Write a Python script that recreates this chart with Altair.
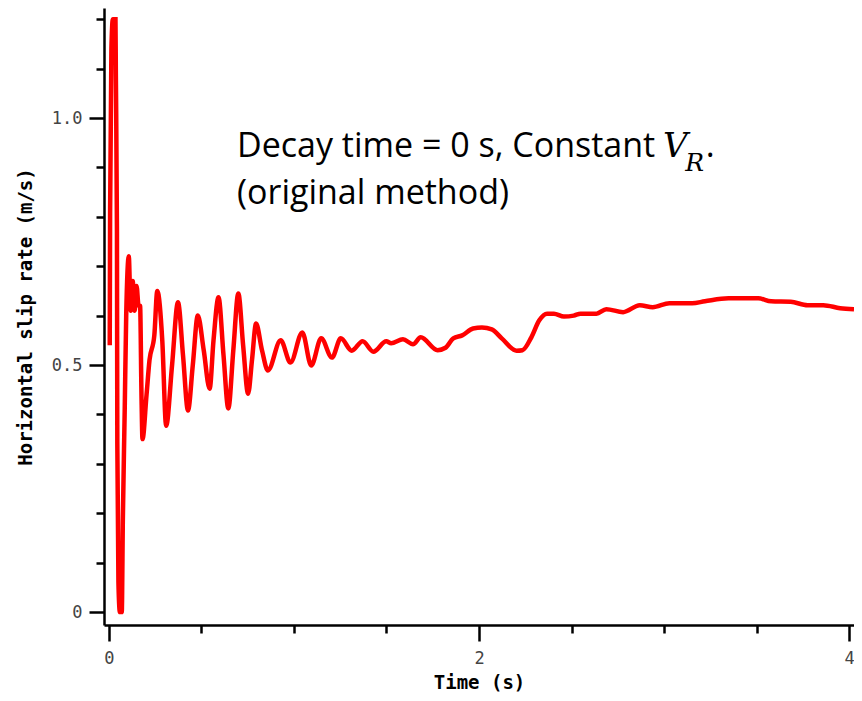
import altair as alt
import pandas as pd

# ---- data ----
time_s = [0.004, 0.006, 0.013, 0.021, 0.035, 0.037, 0.043, 0.045, 0.051, 0.059,
          0.069, 0.075, 0.085, 0.093, 0.107, 0.117, 0.128, 0.139, 0.149, 0.160,
          0.168, 0.176, 0.181, 0.203, 0.219, 0.245, 0.261, 0.288, 0.309, 0.341,
          0.373, 0.400, 0.427, 0.453, 0.480, 0.512, 0.544, 0.565, 0.592, 0.619,
          0.645, 0.672, 0.699, 0.725, 0.752, 0.773, 0.795, 0.827, 0.859, 0.928,
          0.981, 1.045, 1.093, 1.147, 1.205, 1.253, 1.312, 1.371, 1.429, 1.499,
          1.525, 1.589, 1.643, 1.685, 1.776, 1.819, 1.861, 1.909, 1.968, 2.016,
          2.069, 2.123, 2.203, 2.235, 2.283, 2.325, 2.368, 2.405, 2.459, 2.512,
          2.549, 2.635, 2.688, 2.779, 2.869, 2.939, 3.029, 3.152, 3.221, 3.349,
          3.509, 3.579, 3.685, 3.776, 3.861, 3.952, 4.027]
slip_rate = [0.54, 0.81, 1.14, 1.20, 1.20, 1.09, 0.77, 0.34, 0.06, 0.00,
             0.00, 0.19, 0.41, 0.60, 0.72, 0.61, 0.67, 0.61, 0.66, 0.62,
             0.62, 0.43, 0.35, 0.44, 0.51, 0.56, 0.65, 0.55, 0.377, 0.50,
             0.627, 0.52, 0.408, 0.50, 0.60, 0.53, 0.452, 0.55, 0.637, 0.52,
             0.412, 0.53, 0.645, 0.54, 0.442, 0.51, 0.584, 0.53, 0.489, 0.55,
             0.505, 0.566, 0.499, 0.554, 0.515, 0.554, 0.529, 0.548, 0.527, 0.548,
             0.544, 0.552, 0.542, 0.556, 0.530, 0.535, 0.554, 0.560, 0.574, 0.576,
             0.572, 0.554, 0.529, 0.530, 0.556, 0.590, 0.604, 0.604, 0.598, 0.600,
             0.604, 0.604, 0.613, 0.607, 0.621, 0.617, 0.625, 0.625, 0.629, 0.635,
             0.635, 0.629, 0.628, 0.621, 0.621, 0.615, 0.613]

x_tick_values = [0, 0.5, 1, 1.5, 2, 2.5, 3, 3.5, 4]
y_tick_values = [0, 0.1, 0.2, 0.3, 0.4, 0.5, 0.6, 0.7, 0.8, 0.9, 1.0, 1.1, 1.2]

# annotation text and anchor (in data units)
ann_line1 = "Decay time = 0 s, Constant"
ann_line2 = "(original method)"
ann_t = 0.692
ann_v1 = 0.921
ann_v2 = 0.826
sym_V_t, sym_V_v = 2.995, 0.921
sym_R_t, sym_R_v = 3.115, 0.893
sym_dot_t, sym_dot_v = 3.225, 0.921

XMIN, XMAX = -0.027, 4.027
YMIN, YMAX = -0.0263, 1.2227

df = pd.DataFrame({"t": time_s, "v": slip_rate, "i": list(range(len(time_s)))})

x_scale = alt.Scale(domain=[XMIN, XMAX], nice=False, zero=False)
y_scale = alt.Scale(domain=[YMIN, YMAX], nice=False, zero=False)

MONO = "DejaVu Sans Mono"
y_major = "abs(datum.value*2 - round(datum.value*2)) < 1e-6"
x_major = "abs(datum.value/2 - round(datum.value/2)) < 1e-6"

x_axis = alt.Axis(
    title="Time (s)", values=x_tick_values, grid=False,
    labelExpr=f"{x_major} ? format(datum.value, 'd') : ''",
    tickSize={"condition": {"test": x_major, "value": 16}, "value": 8},
    tickColor="black", tickWidth=2.5, domainColor="black", domainWidth=2.5,
    labelFont=MONO, labelFontSize=17, labelColor="#444", labelPadding=9,
    labelFlush=False, labelOverlap=False,
    titleFont=MONO, titleFontSize=19, titleFontWeight="bold", titleColor="black",
    titlePadding=7,
)
y_axis = alt.Axis(
    title="Horizontal slip rate (m/s)", values=y_tick_values, grid=False,
    labelExpr=f"{y_major} ? (datum.value == 0 ? '0' : format(datum.value, '.1f')) : ''",
    tickSize={"condition": {"test": y_major, "value": 15}, "value": 8},
    tickColor="black", tickWidth=2.5, domainColor="black", domainWidth=2.5,
    labelFont=MONO, labelFontSize=17, labelColor="#444", labelPadding=7,
    labelFlush=False, labelOverlap=False,
    titleFont=MONO, titleFontSize=19, titleFontWeight="bold", titleColor="black",
    titlePadding=16,
)

line = alt.Chart(df).mark_line(
    color="#ff0000", strokeWidth=4.5, clip=True, interpolate="monotone"
).encode(
    x=alt.X("t:Q", scale=x_scale, axis=x_axis),
    y=alt.Y("v:Q", scale=y_scale, axis=y_axis),
    order=alt.Order("i:Q"),
)

ann_df = pd.DataFrame({"t": [ann_t, ann_t], "v": [ann_v1, ann_v2], "txt": [ann_line1, ann_line2]})
ann = alt.Chart(ann_df).mark_text(
    align="left", baseline="alphabetic", font="Open Sans", fontSize=34, color="black"
).encode(x="t:Q", y="v:Q", text="txt:N")

sym_df = pd.DataFrame({"t": [sym_V_t], "v": [sym_V_v], "txt": ["V"]})
symV = alt.Chart(sym_df).mark_text(
    align="left", baseline="alphabetic", font="DejaVu Serif", fontStyle="italic",
    fontSize=34, color="black"
).encode(x="t:Q", y="v:Q", text="txt:N")

symR_df = pd.DataFrame({"t": [sym_R_t], "v": [sym_R_v], "txt": ["R"]})
symR = alt.Chart(symR_df).mark_text(
    align="left", baseline="alphabetic", font="DejaVu Serif", fontStyle="italic",
    fontSize=25, color="black"
).encode(x="t:Q", y="v:Q", text="txt:N")

dot_df = pd.DataFrame({"t": [sym_dot_t], "v": [sym_dot_v], "txt": ["."]})
dot = alt.Chart(dot_df).mark_text(
    align="left", baseline="alphabetic", font="Open Sans", fontSize=34, color="black"
).encode(x="t:Q", y="v:Q", text="txt:N")

chart = alt.layer(line, ann, symV, symR, dot).properties(
    width=750, height=617,
    autosize=alt.AutoSizeParams(type="none"),
    padding={"left": 96, "top": 0, "right": 0, "bottom": 68},
).configure_view(stroke=None)

chart.save("out.html", embed_options={"renderer": "svg", "actions": False})
